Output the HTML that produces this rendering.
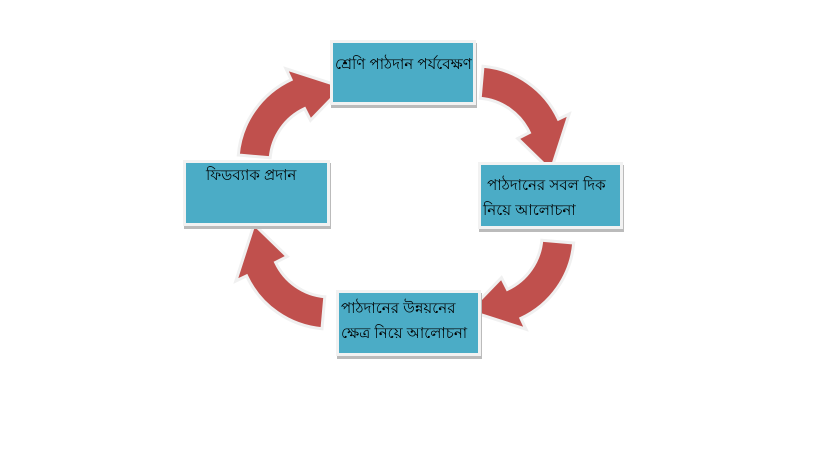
<!DOCTYPE html>
<html><head><meta charset="utf-8"><style>
body{margin:0;width:819px;height:460px;background:#fff;overflow:hidden;position:relative;font-family:"Liberation Sans","Noto Sans CJK SC",sans-serif;}
.b{position:absolute;background:#4BACC6;color:#000;font-size:15px;line-height:25px;box-shadow:0 0 0 3px #f2f2f2,1px 3px 0 3px #bbb;box-sizing:border-box;white-space:nowrap}
svg{position:absolute;left:0;top:0}
</style></head><body>
<svg width="819" height="460">
<defs>
<path id="ar" d="M-91.7,-8 A92,92 0 0 1 -38.9,-83.4 L-44,-94.2 L12.7,-75.9 L-19.5,-42.7 L-25.4,-54.4 A60,60 0 0 0 -59.8,-5.2 Z" fill="#C0504D" stroke="#f0f0f0" stroke-width="3"/>
</defs>
<use href="#ar" transform="translate(330,163)"/>
<use href="#ar" transform="translate(475,158)rotate(90)"/>
<use href="#ar" transform="translate(482,235)rotate(180)"/>
<use href="#ar" transform="translate(330,237)rotate(270)"/>
</svg>
<div class="b" style="left:333px;top:43px;width:140px;height:59px;padding:9px 0 0 2px">শ্রেণি পাঠদান পর্যবেক্ষণ</div>
<div class="b" style="left:186px;top:163px;width:141px;height:60px;padding:0 0 0 20px">ফিডব্যাক প্রদান</div>
<div class="b" style="left:481px;top:165px;width:139px;height:61px;padding:8px 0 0 2px">&nbsp;পাঠদানের সবল দিক<br>নিয়ে আলোচনা</div>
<div class="b" style="left:339px;top:293px;width:139px;height:60px;padding:3px 0 0 2px">পাঠদানের উন্নয়নের<br>ক্ষেত্র নিয়ে আলোচনা</div>
</body></html>
